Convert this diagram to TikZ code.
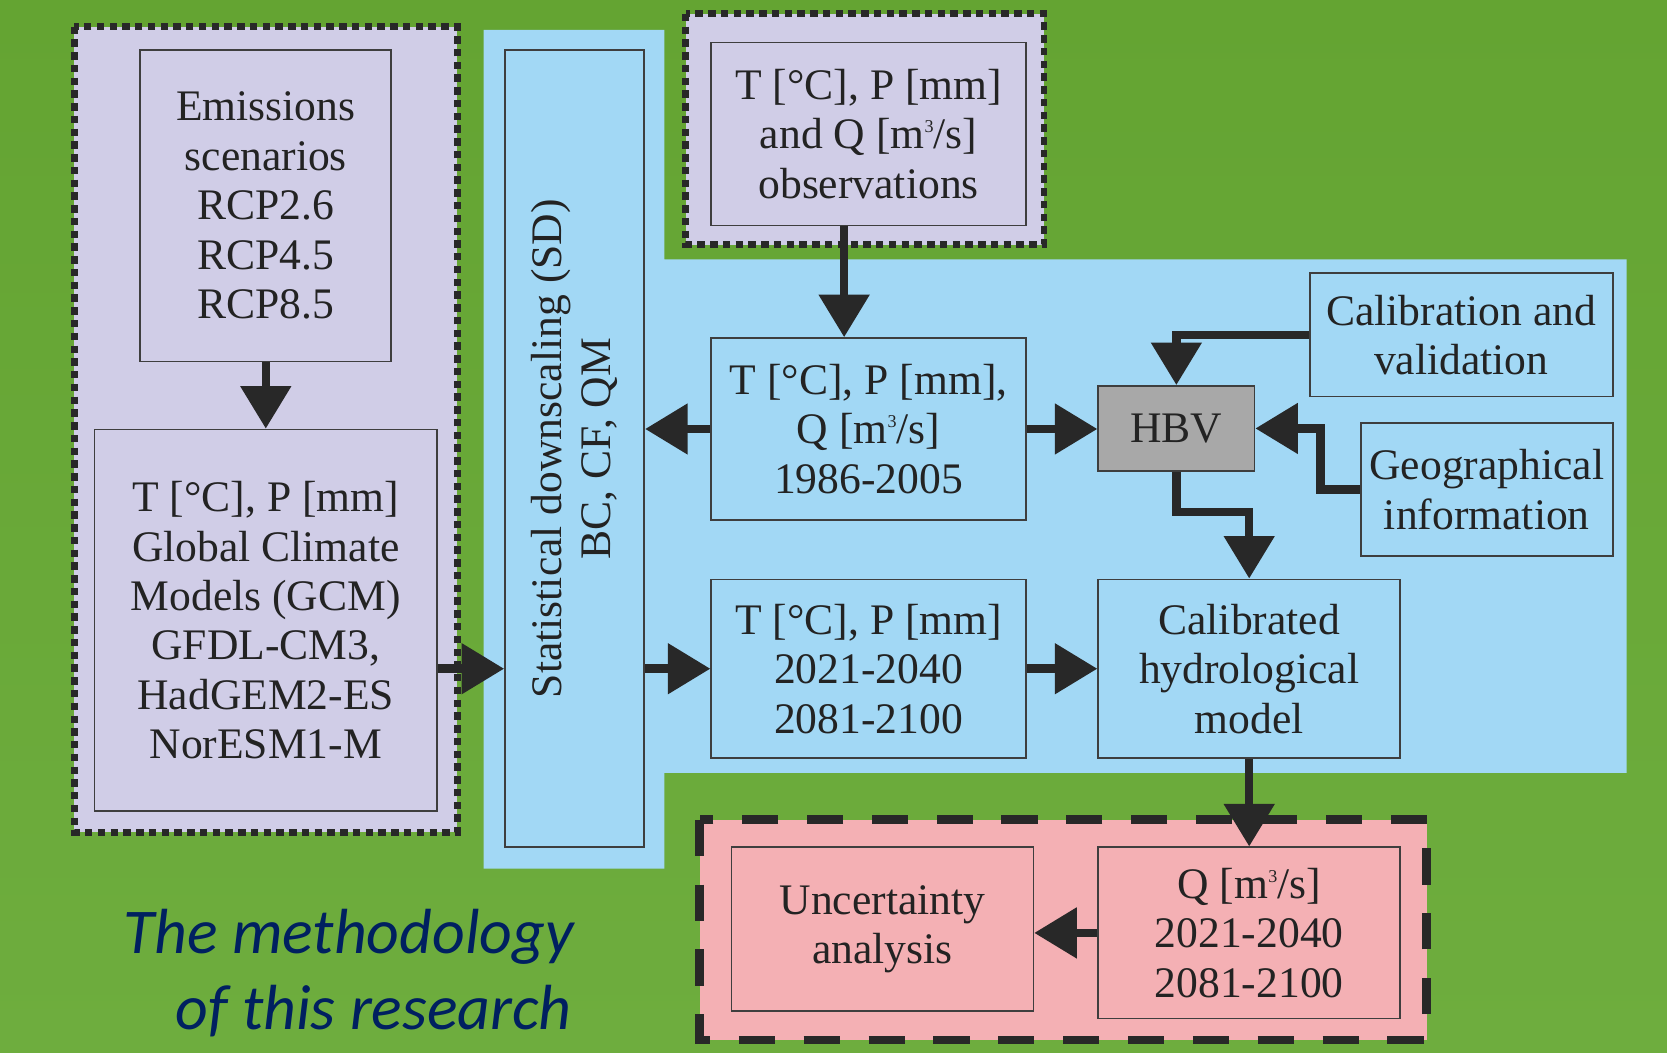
\documentclass[tikz,border=0pt]{standalone}
\usepackage{fontspec}
\setmainfont{Liberation Serif}
\newfontfamily\ttlfont{Carlito}
\usetikzlibrary{arrows.meta,calc}
\definecolor{bggreenA}{RGB}{100,164,50}
\definecolor{bggreenB}{RGB}{110,173,62}
\definecolor{lav}{RGB}{208,205,231}
\definecolor{skyb}{RGB}{162,216,245}
\definecolor{pinkc}{RGB}{244,176,180}
\definecolor{hbvgray}{RGB}{168,168,168}
\definecolor{boxline}{RGB}{62,62,62}
\definecolor{arrowc}{RGB}{40,40,40}
\definecolor{txtc}{RGB}{35,35,35}
\definecolor{navy}{RGB}{0,32,96}
\newcommand\bxfont{\fontsize{41pt}{46.5pt}\selectfont}
\newcommand\ttlsize{\fontsize{60pt}{71pt}\selectfont}
\newcommand\cubed{\raisebox{15pt}{\fontsize{17pt}{17pt}\selectfont 3}}
\tikzset{
  box/.style={draw=boxline, line width=1.6pt, inner sep=0pt, align=center, text=txtc, font=\bxfont},
  arr/.style={draw=arrowc, line width=8pt, -{Triangle[length=40pt,width=46pt]}},
  dotframe/.style={draw=arrowc, line width=6.5pt, dash pattern=on 7pt off 5pt, fill=lav},
  dashframe/.style={draw=arrowc, line width=8pt, dash pattern=on 34pt off 27pt, fill=pinkc},
  ttl/.style={text=navy, font=\ttlfont\itshape\ttlsize, inner sep=0pt}
}
\begin{document}
\begin{tikzpicture}[x=1pt,y=-1pt]
\useasboundingbox (0,0) rectangle (1568,990);
\shade[top color=bggreenA, bottom color=bggreenB] (0,0) rectangle (1568,990);
% blue region
\fill[skyb] (455,28) -- (625,28) -- (625,244) -- (1530,244) -- (1530,727) -- (625,727) -- (625,817) -- (455,817) -- cycle;
% frames
\draw[dotframe] (70,25) rectangle (430,783);
\draw[dotframe] (645,13) rectangle (982,230);
\draw[dashframe] (658,771) rectangle (1342,978);
% boxes
\node[box, fill=lav, minimum width=236pt, minimum height=293pt] (emis) at (250,193.5)
  {Emissions\\scenarios\\RCP2.6\\RCP4.5\\RCP8.5};
\node[box, fill=lav, minimum width=322pt, minimum height=359pt] (gcm) at (250,583.5)
  {T [°C], P [mm]\\Global Climate\\Models (GCM)\\GFDL-CM3,\\HadGEM2-ES\\NorESM1-M};
\node[box, fill=skyb, minimum width=131pt, minimum height=750pt] (sd) at (540.5,422) {};
\node[rotate=90, align=center, text=txtc, font=\bxfont, inner sep=0pt] (sdtext) at (sd.center)
  {Statistical downscaling (SD)\\BC, CF, QM};
\node[box, fill=lav, minimum width=296pt, minimum height=172pt] (obs) at (817,126)
  {T [°C], P [mm]\\and Q [m\cubed/s]\\observations};
\node[box, fill=skyb, minimum width=296pt, minimum height=171pt] (hist) at (817,403.5)
  {T [°C], P [mm],\\Q [m\cubed/s]\\1986-2005};
\node[box, fill=hbvgray, minimum width=147pt, minimum height=80pt] (hbv) at (1106.5,403) {HBV};
\node[box, fill=skyb, minimum width=285pt, minimum height=116pt] (calib) at (1374.5,315)
  {Calibration and\\validation};
\node[box, fill=skyb, minimum width=237pt, minimum height=125pt] (geo) at (1398.5,460.5)
  {Geographical\\information};
\node[box, fill=skyb, minimum width=296pt, minimum height=168pt] (fut) at (817,629)
  {T [°C], P [mm]\\2021-2040\\2081-2100};
\node[box, fill=skyb, minimum width=284pt, minimum height=168pt] (calhyd) at (1175,629)
  {Calibrated\\hydrological\\model};
\node[box, fill=pinkc, minimum width=284pt, minimum height=154pt] (unc) at (830,874)
  {Uncertainty\\analysis};
\node[box, fill=pinkc, minimum width=284pt, minimum height=161pt] (qbox) at (1175,877.5)
  {Q [m\cubed/s]\\2021-2040\\2081-2100};
% title
\node[ttl, anchor=base east] (ttl1) at (540,897) {The methodology};
\node[ttl, anchor=base east] (ttl2) at (538,968) {of this research};
% connectors
\draw[arr] (emis.south) -- (gcm.north);
\draw[arr] (gcm.east |- fut.west) -- (sd.west |- fut.west);
\draw[arr] ([xshift=-23pt]obs.south) -- ([xshift=-23pt]hist.north);
\draw[arr] (hist.west) -- (hist.west -| sd.east);
\draw[arr] (hist.east) -- (hist.east -| hbv.west);
\draw[arr] (calib.west) -| (hbv.north);
\draw[arr] (geo.west) -- ++(-37,0) |- (hbv.east);
\draw[arr] (hbv.south) -- ++(0,38) -| (calhyd.north);
\draw[arr] (fut.west -| sd.east) -- (fut.west);
\draw[arr] (fut.east) -- (calhyd.west);
\draw[arr] (calhyd.south) -- (qbox.north);
\draw[arr] (qbox.west) -- (qbox.west -| unc.east);
\end{tikzpicture}
\end{document}
